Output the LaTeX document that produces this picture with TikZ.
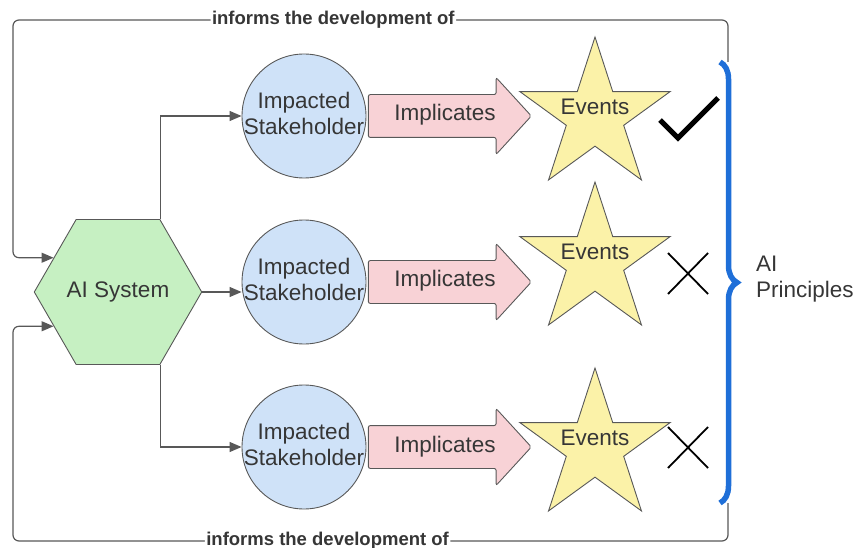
\documentclass[tikz,border=0pt]{standalone}
\usepackage{fontspec}
\setmainfont{Liberation Sans}
\usepackage{xcolor}
\usetikzlibrary{shapes,arrows.meta,positioning,calc,decorations.pathreplacing}

\definecolor{hexgreen}{HTML}{C6F0C2}
\definecolor{shblue}{HTML}{CFE2F8}
\definecolor{impink}{HTML}{F8D2D6}
\definecolor{evyellow}{HTML}{FBF2A8}
\definecolor{bracebl}{HTML}{1F6FD8}
\definecolor{linegray}{HTML}{585858}
\definecolor{txtgray}{HTML}{363636}

\tikzset{
  outline/.style={draw=linegray, line width=0.9pt},
  bigtxt/.style={text=txtgray, font=\fontsize{22.5}{26}\selectfont},
  sysbox/.style={outline, bigtxt, regular polygon, regular polygon sides=6,
    minimum size=165pt, inner sep=0pt, fill=hexgreen},
  shcirc/.style={outline, circle, minimum size=124pt, inner sep=0pt, fill=shblue},
  shtxt/.style={bigtxt, align=center, inner sep=0pt},
  imparrow/.style={outline, bigtxt, single arrow, fill=impink, rounded corners=2pt,
    single arrow head extend=17pt, single arrow tip angle=95,
    minimum height=163pt, text height=15pt, text depth=5pt, inner ysep=11pt},
  evstar/.style={outline, star, star points=5, star point ratio=2.618,
    minimum size=158pt, inner sep=0pt, fill=evyellow},
  evtxt/.style={bigtxt, inner sep=0pt},
  link/.style={draw=linegray, line width=1.2pt, -{Triangle[length=12pt,width=10pt]}},
  loopl/.style={link, rounded corners=6pt},
  lbl/.style={fill=white, inner sep=1.5pt, text=txtgray,
    font=\fontsize{18.5}{20}\selectfont\bfseries},
  xmark/.style={draw=black, line width=1.8pt},
}

\begin{document}
\begin{tikzpicture}[x=1pt,y=-1pt]
    \useasboundingbox (0,0) rectangle (857,548);

    % AI system and stakeholders
    \node[sysbox] (sys) at (118,292) {AI System};
    \node[shcirc] (sh1) at (304,116) {};
    \node[shcirc] (sh2) at (304,282) {};
    \node[shcirc] (sh3) at (304,447) {};

    % implicates arrows
    \node[imparrow] (im1) at (440,116) {\hspace{10pt}Implicates};
    \node[imparrow] (im2) at (440,282) {\hspace{10pt}Implicates};
    \node[imparrow] (im3) at (440,447) {\hspace{10pt}Implicates};

    \node[shtxt] (sht1) at ([yshift=3pt]sh1.center) {Impacted\\Stakeholder};
    \node[shtxt] (sht2) at ([yshift=3pt]sh2.center) {Impacted\\Stakeholder};
    \node[shtxt] (sht3) at ([yshift=3pt]sh3.center) {Impacted\\Stakeholder};

    % events
    \node[evstar] (ev1) at (595,116) {};
    \node[evstar] (ev2) at (595,261) {};
    \node[evstar] (ev3) at (595,447) {};
    \node[evtxt] (evt1) at (595,107) {Events};
    \node[evtxt] (evt2) at (595,252) {Events};
    \node[evtxt] (evt3) at (595,438) {Events};

    \draw[link] (sys.corner 1) |- (sh1);
    \draw[link] (sys.corner 6) -- (sys.corner 6 -| sh2.west);
    \draw[link] (sys.corner 5) |- (sh3);

    % feedback loops
    \coordinate (ptop) at (728,62);
    \coordinate (pbot) at (728,503);
    \coordinate (tlc) at (13,20);
    \coordinate (blc) at (13,541);
    \draw[loopl] (ptop) |- node[lbl, pos=0.776] (inf1) {informs the development of} (tlc) |- (sys.152);
    \draw[loopl] (pbot) |- node[lbl, pos=0.78] (inf2) {informs the development of} (blc) |- (sys.208);

    % principles brace
    \draw[bracebl, line width=5.5pt, decorate, decoration={brace, amplitude=17pt}]
        (720,62) -- (720,503);
    \node[shtxt, align=left, anchor=west] (princ) at (756,279) {AI\\Principles};

    % check and crosses
    \draw[draw=black, line width=5pt] (660,120) -- (678,138) -- (718,98);
    \draw[xmark] (668,253) -- (708,294) (668,294) -- (708,253);
    \draw[xmark] (668,427) -- (708,468) (668,468) -- (708,427);
\end{tikzpicture}
\end{document}
